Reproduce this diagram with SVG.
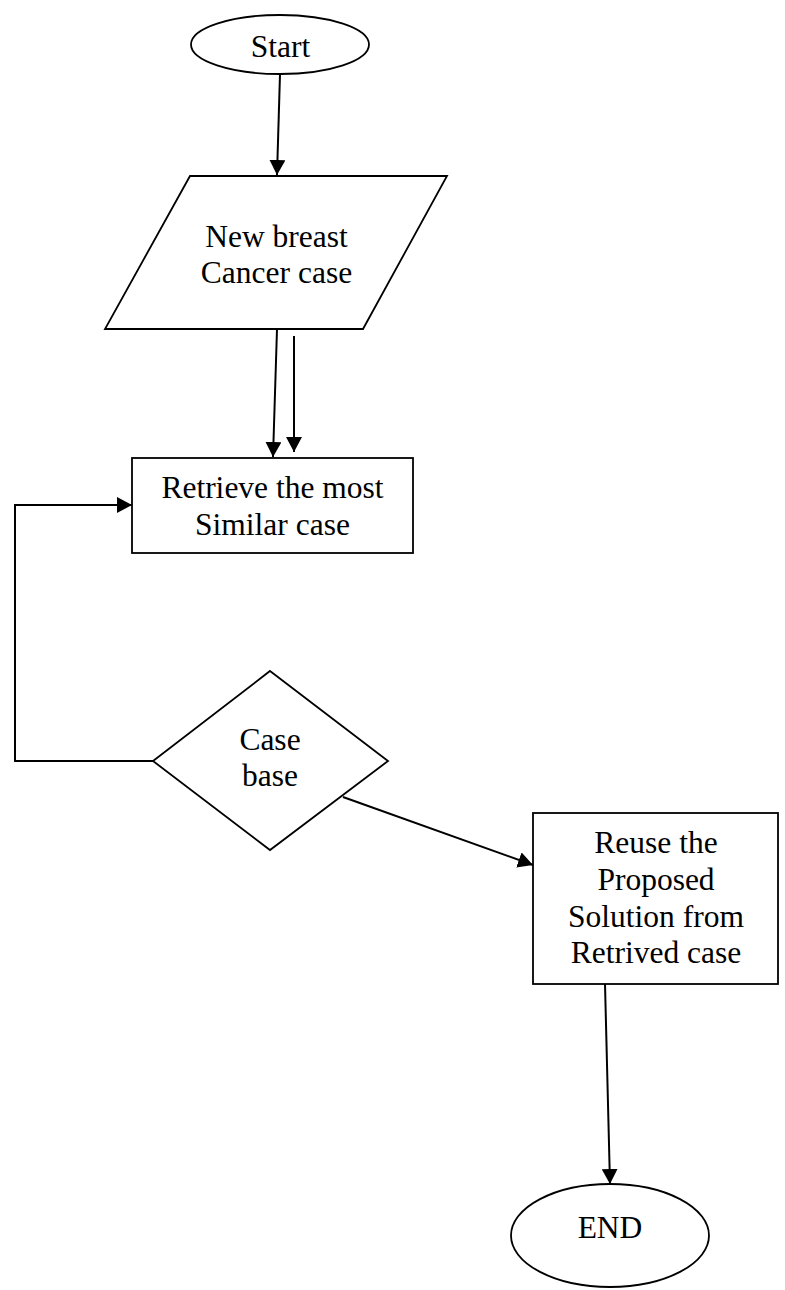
<svg xmlns="http://www.w3.org/2000/svg" width="785" height="1290" viewBox="0 0 785 1290">
<style>
.shape{fill:#fff;stroke:#000;stroke-width:1.8}
.edge{fill:none;stroke:#000;stroke-width:2}
text{font-family:"Liberation Serif","Times New Roman",serif;font-size:31.5px;fill:#000;text-anchor:middle}
</style>
<defs>
<marker id="arr" markerUnits="userSpaceOnUse" markerWidth="16" markerHeight="16" viewBox="0 0 16 16" refX="15" refY="8" orient="auto">
<path d="M0,0 L15,8 L0,16 Z" fill="#000"/>
</marker>
</defs>
<rect width="785" height="1290" fill="#fff"/>
<g id="connectors">
<line class="edge" x1="280" y1="74" x2="277" y2="175" marker-end="url(#arr)"/>
<line class="edge" x1="277" y1="329" x2="273" y2="457" marker-end="url(#arr)"/>
<line class="edge" x1="294" y1="336" x2="294" y2="452" marker-end="url(#arr)"/>
<polyline class="edge" points="153,761 15,761 15,505 132,505" marker-end="url(#arr)"/>
<line class="edge" x1="343" y1="797" x2="533" y2="865" marker-end="url(#arr)"/>
<line class="edge" x1="605" y1="984" x2="610" y2="1184" marker-end="url(#arr)"/>
</g>
<g id="start">
<ellipse class="shape" cx="280" cy="44.5" rx="89" ry="29.5"/>
<text x="280.5" y="57">Start</text>
</g>
<g id="input">
<polygon class="shape" points="190,176 447,176 363,329 105,329"/>
<text x="276.5" y="247">New breast</text>
<text x="276.5" y="283">Cancer case</text>
</g>
<g id="retrieve">
<rect class="shape" x="132" y="458" width="281" height="95"/>
<text x="272.5" y="498">Retrieve the most</text>
<text x="272.5" y="535">Similar case</text>
</g>
<g id="casebase">
<polygon class="shape" points="270,671 388,761 270,850 153,761"/>
<text x="270" y="750">Case</text>
<text x="270" y="786">base</text>
</g>
<g id="reuse">
<rect class="shape" x="533" y="813" width="245" height="171"/>
<text x="656" y="853">Reuse the</text>
<text x="656" y="890">Proposed</text>
<text x="656" y="927">Solution from</text>
<text x="656" y="963">Retrived case</text>
</g>
<g id="end">
<ellipse class="shape" cx="610" cy="1235.5" rx="99" ry="51.5"/>
<text x="610" y="1238">END</text>
</g>
</svg>
